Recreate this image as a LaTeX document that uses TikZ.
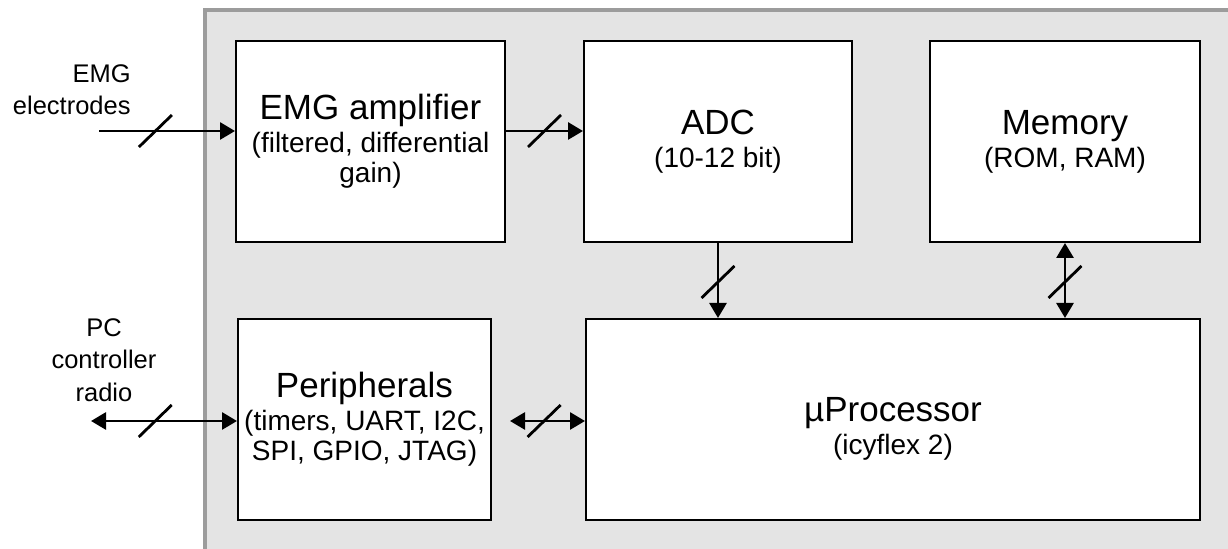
\documentclass[tikz,border=0pt]{standalone}
\usepackage{fontspec}
\setmainfont{Liberation Sans}
\usepackage{xcolor}
\usetikzlibrary{arrows.meta,calc}
\definecolor{panelgray}{HTML}{E4E4E4}
\definecolor{framegray}{HTML}{9C9C9C}
\newcommand{\blocktitle}[1]{{\fontsize{17.5}{20}\selectfont #1}}
\tikzset{
blockbox/.style={draw=black,line width=1pt,fill=white,inner sep=0,align=center,font=\fontsize{14}{15}\selectfont,minimum height=100.5pt},
sidetext/.style={inner sep=0,font=\fontsize{12.75}{16.3}\selectfont},
bus/.style={line width=1.4pt,-{Triangle[length=7.5pt,width=8.5pt]}},
bibus/.style={line width=1.4pt,{Triangle[length=7.5pt,width=8.5pt]}-{Triangle[length=7.5pt,width=8.5pt]}},
cut/.style={line width=1.4pt}
}

\begin{document}
\begin{tikzpicture}[x=0.5pt,y=-0.5pt]
\clip(0,0)rectangle(1228,549);
\draw[framegray,line width=2pt,fill=panelgray](204.5,10)rectangle(1300,600);
\node[blockbox,minimum width=134.5pt](amp)at(370.5,141.5){\blocktitle{EMG amplifier}\\[1.5pt](filtered, differential\\gain)};
\node[blockbox,minimum width=134pt](adc)at(718,141.5){\blocktitle{ADC}\\[1.5pt](10-12 bit)};
\node[blockbox,minimum width=135pt](mem)at(1065,141.5){\blocktitle{Memory}\\[1.5pt](ROM, RAM)};
\node[blockbox,minimum width=126.5pt](per)at(364.5,419.5){\blocktitle{Peripherals}\\[1.5pt](timers, UART, I2C,\\SPI, GPIO, JTAG)};
\node[blockbox,minimum width=307pt,text height=37.8pt](proc)at(893,419.5){\blocktitle{µProcessor}\\[1.5pt](icyflex 2)};
\node[sidetext,align=right,anchor=north east](emglabel)at(131,64){EMG\\electrodes};
\node[sidetext,align=center,anchor=north](pclabel)at(104,318){PC\\controller\\radio};
\coordinate(emgin)at(99,131);
\coordinate(pcout)at(91,421);
\draw[bus](emgin)--coordinate[pos=0.415](c1)(emgin-|amp.west);
\draw[bus](amp.east|-emgin)--coordinate[midway](c2)(adc.west|-emgin);
\draw[bus](adc.south)--coordinate[pos=0.52](c3)(adc.south|-proc.north);
\draw[bibus](mem.south)--coordinate[pos=0.52](c4)(mem.south|-proc.north);
\draw[bibus](pcout)--coordinate[pos=0.44](c5)(pcout-|per.west);
\draw[bibus,shorten <=9pt](per.east|-pcout)--coordinate[pos=0.56](c6)(proc.west|-pcout);
\foreach \c in {c1,c2,c3,c4,c5,c6}
\draw[cut](\c)+(-16.5,16)--+(16.5,-16);
\end{tikzpicture}
\end{document}
